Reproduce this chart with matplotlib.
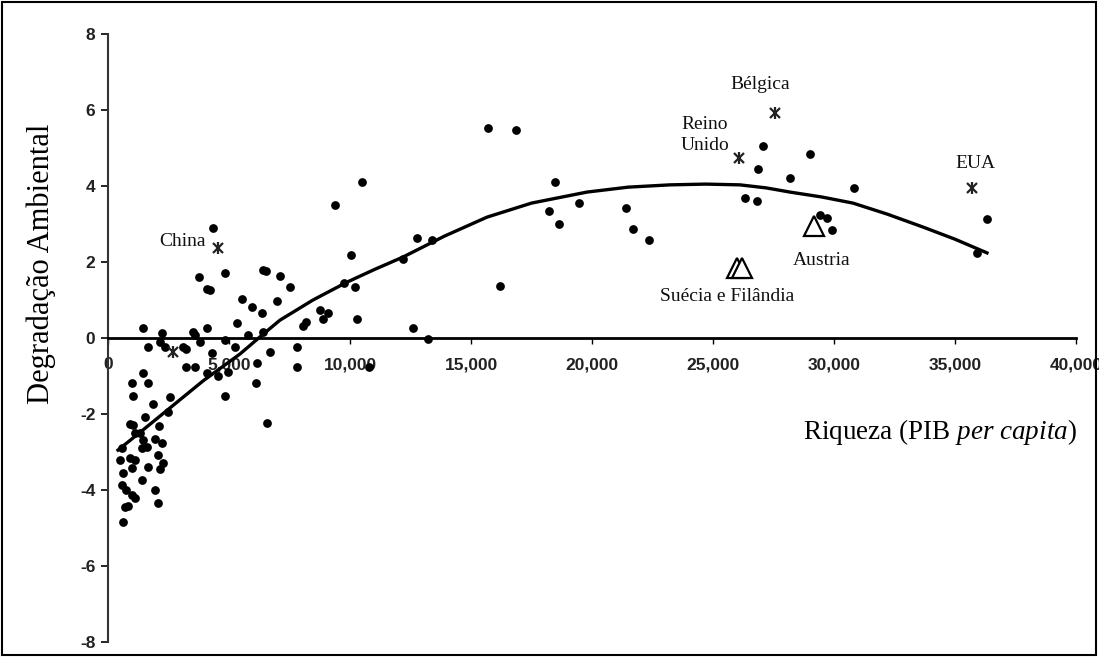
import matplotlib
matplotlib.use('Agg')
import matplotlib.pyplot as plt
from matplotlib.patches import Rectangle

plt.rcParams['axes.unicode_minus'] = False
plt.rcParams['mathtext.fontset'] = 'custom'
plt.rcParams['mathtext.it'] = 'Liberation Serif:italic'
plt.rcParams['mathtext.rm'] = 'Liberation Serif'

# countries (black dots): GDP per capita vs environmental degradation
dot_x = [4339, 3760, 4091, 4215, 4834, 6405, 6529, 7107, 7520, 5537,
         5950, 6363, 6983, 5330, 8057, 8181, 8760, 9090, 8884,
         1446, 1653, 2231, 2149, 2355, 3099, 3223, 3512, 3595, 3801,
         4091, 4297, 4834, 3223, 3595, 4091, 4545, 4958, 4834, 5248,
         5785, 6157, 6115, 6405, 6694, 6570, 7810, 7810, 1446, 992,
         1033, 1653, 1859, 2562, 2479, 1529, 909, 1033, 2107,
         1116, 1322, 578, 1405, 1612, 1446, 1942, 2231, 496, 909,
         1116, 2066, 1653, 2273, 2149, 620, 992, 1405, 578, 744,
         992, 1116, 1942, 2066, 702, 826, 620,
         15702, 16859, 10495, 9380, 18470, 18222, 18635, 19462, 21404, 21693,
         22354, 12768, 13388, 10041, 12189, 9752, 10206, 16197, 10289, 12603,
         13223, 10785,
         27065, 29007, 26858, 28180, 30825, 26321, 26817, 36321, 29420, 29710,
         29916, 35908]
dot_y = [2.89, 1.61, 1.29, 1.26, 1.71, 1.79, 1.76, 1.63, 1.34, 1.03,
         0.82, 0.66, 0.97, 0.39, 0.32, 0.42, 0.74, 0.66, 0.50,
         0.26, -0.24, 0.13, -0.11, -0.24, -0.24, -0.29, 0.16, 0.08, -0.11,
         0.26, -0.39, -0.05, -0.76, -0.76, -0.92, -1.00, -0.89, -1.53, -0.24,
         0.08, -0.66, -1.18, 0.16, -0.37, -2.24, -0.24, -0.76, -0.92, -1.18,
         -1.53, -1.18, -1.74, -1.55, -1.95, -2.08, -2.26, -2.29, -2.32,
         -2.50, -2.50, -2.89, -2.89, -2.87, -2.68, -2.66, -2.76, -3.21, -3.16,
         -3.21, -3.08, -3.39, -3.29, -3.45, -3.55, -3.42, -3.74, -3.87, -4.00,
         -4.13, -4.21, -4.00, -4.34, -4.45, -4.42, -4.84,
         5.53, 5.47, 4.11, 3.50, 4.11, 3.34, 3.00, 3.55, 3.42, 2.87,
         2.58, 2.63, 2.58, 2.18, 2.08, 1.45, 1.34, 1.37, 0.50, 0.26,
         -0.03, -0.76,
         5.05, 4.84, 4.45, 4.21, 3.95, 3.68, 3.61, 3.13, 3.24, 3.16,
         2.84, 2.24]

# highlighted countries (star markers)
star_x = [4545, 2690, 26070, 27560, 35700]
star_y = [2.37, -0.37, 4.74, 5.92, 3.95]

# open triangles: Austria, Suecia, Finlandia
tri_x = [29170, 25990, 26200]
tri_y = [2.95, 1.84, 1.84]

# trend curve
curve_x = [413, 1446, 2562, 3926, 5455, 6281, 7107, 8471, 9876, 11000,
           12189, 13900, 15660, 17500, 19792, 21500, 23222, 24700, 26114,
           27200, 28180, 29500, 30784, 32200, 33676, 35000, 36321]
curve_y = [-2.95, -2.42, -1.84, -1.13, -0.42, 0.03, 0.47, 1.00, 1.47, 1.80,
           2.13, 2.68, 3.18, 3.55, 3.84, 3.97, 4.03, 4.05, 4.03,
           3.95, 3.84, 3.71, 3.55, 3.26, 2.92, 2.60, 2.24]

labels = ['China', 'Reino\nUnido', 'Bélgica', 'EUA', 'Austria', 'Suécia e Filândia']
label_x = [3099, 24670, 26940, 35825, 29503, 25598]
label_y = [2.53, 5.34, 6.66, 4.58, 2.04, 1.10]

x_ticks = [0, 5000, 10000, 15000, 20000, 25000, 30000, 35000, 40000]
x_tick_labels = ['0', '5,000', '10,000', '15,000', '20,000', '25,000', '30,000', '35,000', '40,000']
y_ticks = [-8, -6, -4, -2, 0, 2, 4, 6, 8]

serif = 'Liberation Serif'

fig = plt.figure(figsize=(10.99, 6.57), dpi=100)
ax = fig.add_axes([108/1099, 15/657, 968/1099, 608/657])

ax.plot(curve_x, curve_y, color='black', lw=2.4, zorder=2, solid_joinstyle='round')
ax.plot(dot_x, dot_y, 'o', color='black', ms=6.3, mew=0, zorder=3, clip_on=False)
ax.plot(star_x, star_y, 'x', color='#222222', ms=7, mew=1.6, zorder=4)
ax.plot(star_x, star_y, '|', color='#222222', ms=8, mew=1.6, zorder=4)
ax.plot(tri_x, tri_y, '^', mfc='white', mec='black', ms=14, mew=1.6, zorder=4)

for t, x, y in zip(labels, label_x, label_y):
        ax.text(x, y, t, family=serif, fontsize=14, ha='center', va='center',
                linespacing=1.25, color='#111111')

ax.set_xlim(0, 40000)
ax.set_ylim(-8, 8)

ax.spines['top'].set_visible(False)
ax.spines['right'].set_visible(False)
ax.spines['bottom'].set_position(('data', 0))
ax.spines['bottom'].set_linewidth(2)
ax.spines['left'].set_linewidth(1.5)
ax.spines['left'].set_color('#333333')

ax.set_xticks(x_ticks)
ax.set_xticklabels(x_tick_labels)
ax.set_yticks(y_ticks)
ax.tick_params(axis='x', direction='out', length=4, width=1, pad=10)
ax.tick_params(axis='y', direction='out', length=5, width=1.2, pad=4)
for lab in ax.get_xticklabels() + ax.get_yticklabels():
        lab.set_family('Liberation Sans')
        lab.set_fontweight('bold')
        lab.set_fontsize(12.5)
        lab.set_color('#222222')

fig.text(41/1099, 1 - 264/657, 'Degradação Ambiental', family=serif, fontsize=22,
         rotation=90, ha='center', va='center')
fig.text(1077/1099, 1 - 432/657, 'Riqueza (PIB $\\it{per\\ capita}$)', family=serif,
         fontsize=19.5, ha='right', va='center')

fig.add_artist(Rectangle((0.0015, 0.003), 0.996, 0.994, transform=fig.transFigure,
                         fill=False, edgecolor='black', lw=1.5))

fig.savefig('out.png', dpi=100)
